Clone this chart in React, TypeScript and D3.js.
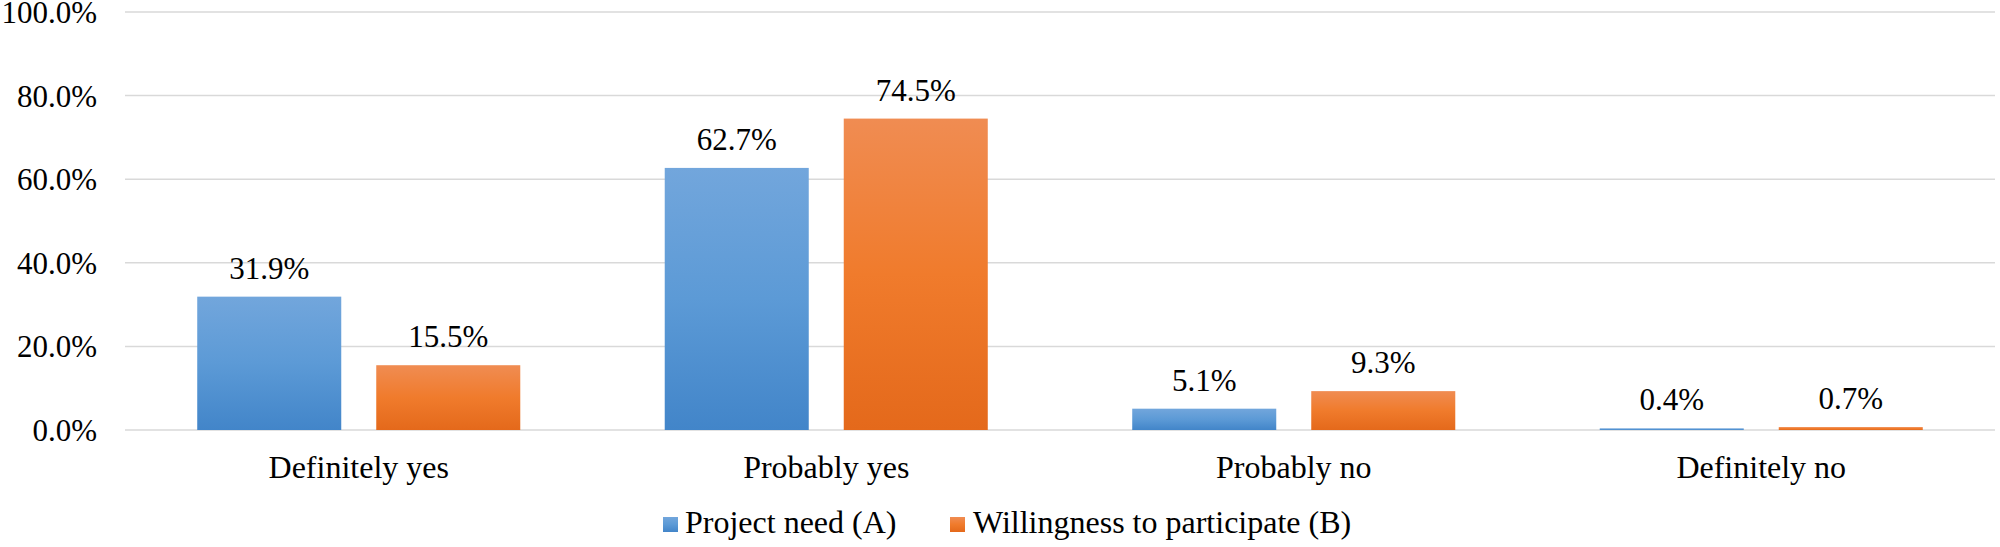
import React from "react";
import * as d3 from "d3";

const categories = ["Definitely yes", "Probably yes", "Probably no", "Definitely no"];
const seriesNames = ["Project need (A)", "Willingness to participate (B)"];
const projectNeed = [31.9, 62.7, 5.1, 0.4];
const willingness = [15.5, 74.5, 9.3, 0.7];
const yTicks = [0, 20, 40, 60, 80, 100];

const W = 2000;
const H = 547;
const FONT = "Liberation Serif, Times New Roman, serif";
const tStyle = { fontFamily: FONT };

export default function App() {
  const x = d3.scaleBand<string>().domain(categories).range([125, 1995]).paddingInner(0.309).paddingOuter(0.1545);
  const xs = d3.scaleBand<string>().domain(["A", "B"]).range([0, x.bandwidth()]).paddingInner(0.1955).paddingOuter(0);
  const y = d3.scaleLinear().domain([0, 100]).range([430, 12]);
  const series = [
    { key: "A", name: seriesNames[0], values: projectNeed, grad: "gradBlue" },
    { key: "B", name: seriesNames[1], values: willingness, grad: "gradOrange" },
  ];
  const fmt = (v: number) => v.toFixed(1) + "%";

  return (
    <svg width={W} height={H} style={{ position: "absolute", left: 0, top: 0, background: "#fff" }}>
      <defs>
        <linearGradient id="gradBlue" x1="0" y1="0" x2="0" y2="1">
          <stop offset="0" stopColor="#72a6dc" />
          <stop offset="0.5" stopColor="#5c9ad6" />
          <stop offset="1" stopColor="#4285c9" />
        </linearGradient>
        <linearGradient id="gradOrange" x1="0" y1="0" x2="0" y2="1">
          <stop offset="0" stopColor="#f08c52" />
          <stop offset="0.5" stopColor="#f07b2c" />
          <stop offset="1" stopColor="#e4691b" />
        </linearGradient>
      </defs>
      <rect x={0} y={0} width={W} height={H} fill="#fff" />
      {yTicks.map((t) => (
        <g key={t}>
          <line x1={125} x2={1995} y1={y(t)} y2={y(t)} stroke="#d9d9d9" strokeWidth={1.5} />
          <text x={97} y={y(t) + 11} textAnchor="end" fontSize={31} fill="#000" style={tStyle}>
            {fmt(t)}
          </text>
        </g>
      ))}
      {categories.map((c, i) => (
        <g key={c}>
          {series.map((s) => {
            const bx = (x(c) as number) + (xs(s.key) as number);
            const v = s.values[i];
            const top = y(v);
            return (
              <g key={s.key}>
                <rect x={bx} y={top} width={xs.bandwidth()} height={y(0) - top} fill={`url(#${s.grad})`} />
                <text x={bx + xs.bandwidth() / 2} y={top - 18} textAnchor="middle" fontSize={31} fill="#000" style={tStyle}>
                  {fmt(v)}
                </text>
              </g>
            );
          })}
          <text x={(x(c) as number) + x.bandwidth() / 2} y={478} textAnchor="middle" fontSize={32} fill="#000" style={tStyle}>
            {c}
          </text>
        </g>
      ))}
      <g>
        <rect x={663} y={517} width={15} height={15} fill="url(#gradBlue)" />
        <text x={685} y={533} fontSize={32} fill="#000" style={tStyle}>{seriesNames[0]}</text>
        <rect x={950} y={517} width={15} height={15} fill="url(#gradOrange)" />
        <text x={973} y={533} fontSize={32} fill="#000" style={tStyle}>{seriesNames[1]}</text>
      </g>
    </svg>
  );
}
